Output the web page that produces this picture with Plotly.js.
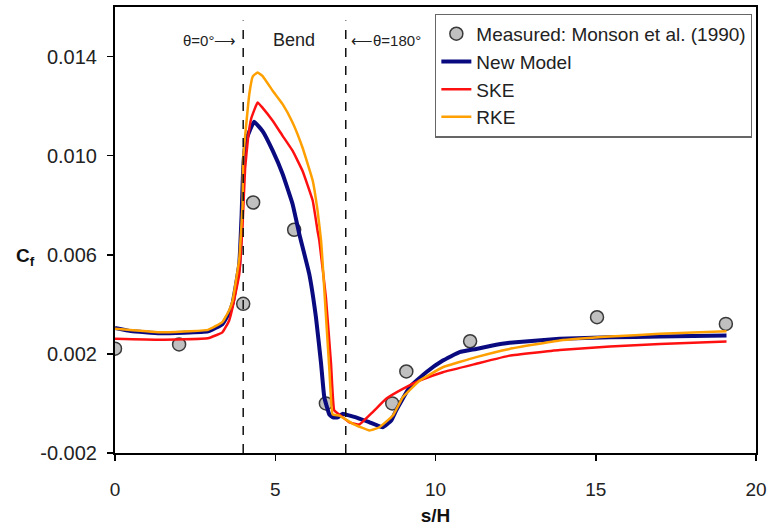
<!DOCTYPE html>
<html>
<head>
<meta charset="utf-8">
<script src="https://cdn.plot.ly/plotly-3.0.1.min.js"></script>
<style>html,body{margin:0;padding:0;background:#fff;}#chart{width:771px;height:529px;}</style>
</head>
<body>
<div id="chart"></div>
<script>
// Measured data: Monson et al. (1990)
const measX = [0, 2.0, 4.0, 4.31, 5.59, 6.58, 8.65, 9.09, 11.08, 15.04, 19.06];
const measY = [0.00221, 0.00238, 0.00402, 0.00811, 0.00701, 0.0000, 0.0000, 0.00129, 0.00251, 0.00348, 0.00321];

// New Model
const newX = [0, 0.5, 1.4, 2.9, 3.35, 3.56, 3.67, 3.875, 3.95, 4.0, 4.07, 4.2, 4.34, 4.6, 4.92, 5.23, 5.54, 5.75, 6.06, 6.27, 6.43, 6.53, 6.69, 6.8, 6.95, 7.1, 7.21, 7.52, 7.94, 8.35, 8.62, 8.77, 9.19, 9.71, 10.23, 10.75, 11.27, 11.78, 12.31, 13.875, 15.44, 17.0, 19.08];
const newY = [0.00305, 0.00292, 0.00283, 0.00291, 0.00320, 0.00365, 0.00405, 0.0056, 0.0076, 0.0095, 0.0105, 0.0110, 0.01137, 0.0110, 0.0102, 0.00926, 0.00805, 0.00684, 0.00523, 0.00348, 0.0016, 0.00025, -0.00045, -0.00056, -0.00056, -0.00042, -0.00045, -0.00056, -0.00076, -0.00096, -0.00069, -0.00029, 0.00065, 0.00126, 0.00173, 0.00207, 0.0022, 0.00234, 0.00245, 0.00261, 0.00267, 0.0027, 0.00274];

// SKE
const skeX = [0, 1.4, 2.9, 3.35, 3.56, 3.67, 3.875, 3.98, 4.06, 4.15, 4.25, 4.45, 4.6, 4.92, 5.23, 5.54, 5.85, 6.17, 6.32, 6.375, 6.58, 6.74, 6.84, 7.0, 7.31, 7.625, 8.04, 8.46, 8.98, 9.5, 10.23, 11.27, 12.31, 13.875, 15.44, 17.0, 19.08];
const skeY = [0.00261, 0.00257, 0.00263, 0.00287, 0.00334, 0.00388, 0.0052, 0.0072, 0.0095, 0.0107, 0.0115, 0.01215, 0.01194, 0.01141, 0.0108, 0.0102, 0.00939, 0.00818, 0.00697, 0.00657, 0.00428, 0.0016, -0.00028, -0.00045, -0.00076, -0.00085, -0.00035, 0.00019, 0.00059, 0.00092, 0.00126, 0.0016, 0.00193, 0.00216, 0.0023, 0.0024, 0.0025];

// RKE
const rkeX = [0, 1.4, 2.9, 3.35, 3.56, 3.67, 3.875, 3.98, 4.0, 4.19, 4.3, 4.45, 4.6, 4.92, 5.23, 5.54, 5.85, 6.17, 6.32, 6.43, 6.48, 6.69, 6.79, 7.0, 7.42, 7.94, 8.25, 8.67, 8.98, 9.5, 10.23, 11.27, 12.31, 13.875, 15.44, 17.0, 19.08];
const rkeY = [0.00301, 0.00287, 0.00297, 0.00328, 0.00375, 0.00415, 0.0058, 0.0080, 0.0099, 0.01248, 0.0132, 0.01336, 0.01322, 0.01262, 0.01208, 0.01134, 0.01033, 0.00899, 0.00778, 0.00657, 0.00563, 0.00133, -0.00044, -0.00049, -0.00082, -0.00109, -0.00096, -0.00049, 0.00025, 0.00092, 0.00146, 0.00187, 0.0022, 0.00254, 0.0027, 0.00281, 0.00291];

const xTicks = [0, 5, 10, 15, 20];
const yTicks = [-0.002, 0.002, 0.006, 0.010, 0.014];
const yTickText = ['-0.002', '0.002', '0.006', '0.010', '0.014'];
const bendStart = 4.0, bendEnd = 7.2;

const FONT = 'Liberation Sans, Arial, Helvetica, sans-serif';

const traces = [
  {x: measX, y: measY, mode: 'markers', type: 'scatter', name: 'Measured: Monson et al. (1990)',
   marker: {size: 13, color: '#c0c0c0', line: {color: '#3a3a3a', width: 1.5}}},
  {x: newX, y: newY, mode: 'lines', type: 'scatter', name: 'New Model',
   line: {color: '#0a0a80', width: 4, shape: 'spline', smoothing: 0.3}},
  {x: skeX, y: skeY, mode: 'lines', type: 'scatter', name: 'SKE',
   line: {color: '#ff1010', width: 2.5, shape: 'spline', smoothing: 0.3}},
  {x: rkeX, y: rkeY, mode: 'lines', type: 'scatter', name: 'RKE',
   line: {color: '#ffa000', width: 2.5, shape: 'spline', smoothing: 0.3}}
];

const layout = {
  width: 771, height: 529,
  margin: {l: 115, r: 15, t: 7, b: 76},
  paper_bgcolor: '#fff', plot_bgcolor: '#fff',
  font: {family: FONT, size: 15, color: '#222'},
  showlegend: true,
  legend: {x: 0.994, xanchor: 'right', y: 0.985, yanchor: 'top',
           bgcolor: '#fff', bordercolor: '#666', borderwidth: 1.2,
           font: {family: FONT, size: 19, color: '#222'}, tracegroupgap: 0, itemwidth: 30},
  xaxis: {range: [0, 20], tickvals: xTicks, ticktext: xTicks.map(String),
          ticks: 'outside', ticklen: 6, tickwidth: 1.5, tickcolor: '#000',
          ticklabelstandoff: 12,
          showline: true, linecolor: '#000', linewidth: 2, mirror: true,
          showgrid: false, zeroline: false,
          tickfont: {family: FONT, size: 19, color: '#222'},
          title: {text: '<b>s/H</b>', font: {family: FONT, size: 19, color: '#111'}, standoff: 10}},
  yaxis: {range: [-0.002, 0.016], tickvals: yTicks, ticktext: yTickText,
          ticks: 'outside', ticklen: 6, tickwidth: 1.5, tickcolor: '#000',
          ticklabelstandoff: 6,
          showline: true, linecolor: '#000', linewidth: 2, mirror: true,
          showgrid: false, zeroline: false,
          tickfont: {family: FONT, size: 20, color: '#222'}},
  shapes: [
    {type: 'line', xref: 'x', yref: 'paper', x0: bendStart, x1: bendStart, y0: 0, y1: 0.97,
     line: {color: '#111', width: 1.5, dash: 'dash'}},
    {type: 'line', xref: 'x', yref: 'paper', x0: bendEnd, x1: bendEnd, y0: 0, y1: 0.97,
     line: {color: '#111', width: 1.5, dash: 'dash'}}
  ],
  annotations: [
    {xref: 'paper', yref: 'paper', x: -0.14, y: 0.44, xanchor: 'center', yanchor: 'middle',
     text: '<b>C<sub>f</sub></b>', showarrow: false, font: {family: FONT, size: 19, color: '#111'}},
    {xref: 'x', yref: 'paper', x: 3.85, y: 0.926, xanchor: 'right', yanchor: 'middle',
     text: 'θ=0°⟶', showarrow: false, font: {family: FONT, size: 15, color: '#222'}},
    {xref: 'x', yref: 'paper', x: 5.6, y: 0.926, xanchor: 'center', yanchor: 'middle',
     text: 'Bend', showarrow: false, font: {family: FONT, size: 18, color: '#222'}},
    {xref: 'x', yref: 'paper', x: 7.3, y: 0.926, xanchor: 'left', yanchor: 'middle',
     text: '⟵θ=180°', showarrow: false, font: {family: FONT, size: 15, color: '#222'}}
  ]
};

Plotly.newPlot('chart', traces, layout, {displayModeBar: false, staticPlot: true});
</script>
</body>
</html>
